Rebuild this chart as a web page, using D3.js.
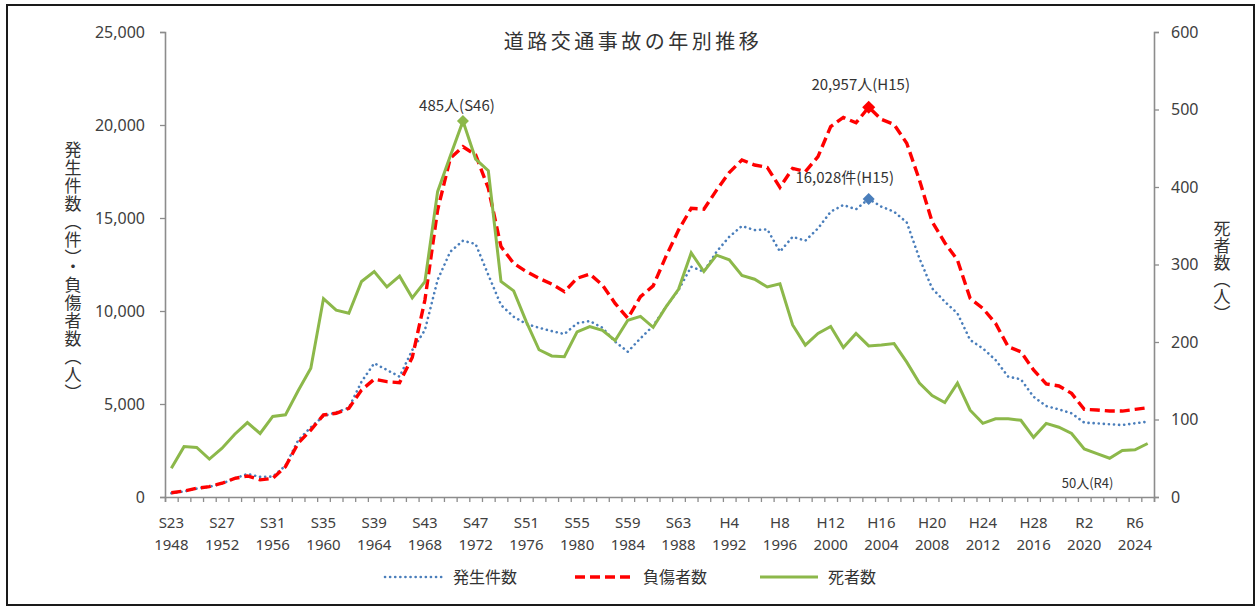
<!DOCTYPE html>
<html><head><meta charset="utf-8">
<script src="https://cdn.jsdelivr.net/npm/d3@7"></script>
<style>
html,body{margin:0;padding:0;background:#fff;}
text{font-family:"Noto Sans CJK JP","Noto Sans",sans-serif;fill:#404040;}
</style></head>
<body><svg id="c" width="1258" height="609"></svg>
<script>
const years = d3.range(1948, 2026);
const accidents = [200,300,450,550,720,1000,1240,1080,1100,1680,3050,3750,4350,4550,4800,6200,7190,6830,6470,7900,8980,11670,13190,13780,13600,11940,10320,9690,9300,9100,8920,8760,9340,9460,9100,8350,7810,8530,9200,10230,11130,12380,12120,13190,13990,14570,14350,14390,13190,13990,13780,14440,15340,15700,15470,16028,15610,15340,14760,12830,11220,10500,9870,8440,7990,7370,6470,6330,5390,4890,4710,4500,4000,3960,3910,3870,3960,4050];
const injured = [230,320,470,560,740,1000,1130,920,1000,1630,2890,3600,4410,4500,4770,5750,6330,6200,6150,7500,10590,15430,18210,18830,18390,16600,13460,12560,12120,11760,11450,11040,11760,11990,11400,10410,9610,10770,11350,12920,14350,15520,15470,16500,17440,18120,17850,17720,16650,17670,17490,18300,19910,20410,20120,20957,20300,20030,19020,17040,14800,13670,12740,10680,10140,9340,8080,7810,6830,6080,5970,5570,4710,4680,4620,4620,4710,4800];
const deaths = [37,65,64,49,63,81,96,82,104,106,137,166,256,241,237,278,291,271,285,257,278,394,440,485,436,421,278,266,226,190,182,181,213,220,215,202,228,233,219,245,268,315,291,312,306,286,281,271,275,222,196,211,220,193,211,195,196,198,174,147,131,122,147,112,95,101,101,99,77,95,90,82,62,56,50,60,61,69];
const tickYears = [1948,1952,1956,1960,1964,1968,1972,1976,1980,1984,1988,1992,1996,2000,2004,2008,2012,2016,2020,2024];
const tickEra = ["S23","S27","S31","S35","S39","S43","S47","S51","S55","S59","S63","H4","H8","H12","H16","H20","H24","H28","R2","R6"];
const leftTicks = [0,5000,10000,15000,20000,25000];
const rightTicks = [0,100,200,300,400,500,600];
const seriesNames = ["発生件数","負傷者数","死者数"];

const svg = d3.select("#c");
const L=165, R=1154, T=32, B=497;
const x = d3.scaleBand().domain(years).range([L,R]).padding(0);
const xc = d => x(d) + x.bandwidth()/2;
const yL = d3.scaleLinear().domain([0,25000]).range([B,T]);
const yR = d3.scaleLinear().domain([0,600]).range([B,T]);
const axisColor = "#8c8c8c";

// outer border
svg.append("rect").attr("x",7).attr("y",5).attr("width",1247).attr("height",600)
  .attr("fill","none").attr("stroke","#1a1a1a").attr("stroke-width",2);

// title
svg.append("text").attr("x",633).attr("y",49).attr("text-anchor","middle")
  .style("font-size","20px").style("letter-spacing","3.5px").style("fill","#333").text("道路交通事故の年別推移");

// left axis
const gL = svg.append("g").attr("transform",`translate(${L},0)`)
  .call(d3.axisLeft(yL).tickValues(leftTicks).tickSize(5).tickPadding(15).tickFormat(d3.format(",")));
// right axis
const gR = svg.append("g").attr("transform",`translate(${R},0)`)
  .call(d3.axisRight(yR).tickValues(rightTicks).tickSize(5).tickPadding(12));
// bottom boundary ticks
const xi = d3.scaleLinear().domain([0,years.length]).range([L,R]);
const gB = svg.append("g").attr("transform",`translate(0,${B})`)
  .call(d3.axisBottom(xi).tickValues(d3.range(0,years.length+1)).tickSize(5).tickFormat(""));
// bottom labels
const gB2 = svg.append("g").attr("transform",`translate(0,${B})`)
  .call(d3.axisBottom(x).tickValues(tickYears).tickSize(0).tickPadding(20).tickFormat((d,i)=>tickEra[i]));
gB2.select(".domain").remove();
gB2.selectAll(".tick text").each(function(d,i){
  const t=d3.select(this);
  t.append("tspan").attr("x",0).attr("dy","1.5em").text(d);
});
[gL,gR,gB,gB2].forEach(g=>{
  g.selectAll(".domain").attr("stroke",axisColor).attr("stroke-width",1.6);
  g.selectAll(".tick line").attr("stroke",axisColor).attr("stroke-width",1.3);
  g.selectAll(".tick text").style("font-size","15px").style("fill","#404040").style("font-family","'Noto Sans','Noto Sans CJK JP',sans-serif");
});
[gL,gR].forEach(g=>g.selectAll(".tick text").style("font-size","16px"));

// axis titles
svg.append("text").attr("transform","translate(73,135)")
  .style("writing-mode","vertical-rl").style("font-size","17px").style("letter-spacing","1px").style("fill","#333")
  .attr("dy","0.35em")
  .text("発生件数（件）・負傷者数（人）");
svg.append("text").attr("transform","translate(1222,214)")
  .style("writing-mode","vertical-rl").style("font-size","17px").style("fill","#333")
  .attr("dy","0.35em")
  .text("死者数（人）");

// lines
const lineL = arr => d3.line().x((d,i)=>xc(years[i])).y(d=>yL(d))(arr);
const lineR = arr => d3.line().x((d,i)=>xc(years[i])).y(d=>yR(d))(arr);
const blue="#4a7ebb", red="#ff0000", green="#8cb84a";
svg.append("path").attr("d",lineL(accidents)).attr("fill","none").attr("stroke",blue)
  .attr("stroke-width",2.6).attr("stroke-dasharray","0.1 5").attr("stroke-linecap","round");
svg.append("path").attr("d",lineL(injured)).attr("fill","none").attr("stroke",red)
  .attr("stroke-width",3.4).attr("stroke-dasharray","10 5").attr("stroke-linecap","butt");
svg.append("path").attr("d",lineR(deaths)).attr("fill","none").attr("stroke",green)
  .attr("stroke-width",3).attr("stroke-linejoin","miter");

// markers (square rotated 45deg)
const iPeakD = deaths.indexOf(d3.max(deaths));
const iPeakI = injured.indexOf(d3.max(injured));
const iPeakA = accidents.indexOf(d3.max(accidents));
const diamond = d3.symbol().type(d3.symbolSquare).size(72);
svg.append("path").attr("d",diamond()).attr("fill",green)
  .attr("transform",`translate(${xc(years[iPeakD])},${yR(deaths[iPeakD])}) rotate(45)`);
svg.append("path").attr("d",diamond.size(85)()).attr("fill",red)
  .attr("transform",`translate(${xc(years[iPeakI])},${yL(injured[iPeakI])}) rotate(45)`);
svg.append("path").attr("d",diamond.size(72)()).attr("fill",blue)
  .attr("transform",`translate(${xc(years[iPeakA])},${yL(accidents[iPeakA])}) rotate(45)`);

// annotations
const ann = (tx,ty,s,anchor)=>svg.append("text").attr("x",tx).attr("y",ty)
  .attr("text-anchor",anchor||"middle").style("font-size","15px").style("fill","#333").text(s);
ann(xc(years[iPeakD])-6, yR(deaths[iPeakD])-10, `${deaths[iPeakD]}人(S46)`);
ann(xc(years[iPeakI])-8, yL(injured[iPeakI])-17, `${d3.format(",")(injured[iPeakI])}人(H15)`);
ann(xc(years[iPeakA])-24, yL(accidents[iPeakA])-16, `${d3.format(",")(accidents[iPeakA])}件(H15)`);
const iR4 = years.indexOf(2022);
ann(xc(2022)-22, yR(deaths[iR4])+30, `${deaths[iR4]}人(R4)`).style("font-size","13px");

// legend
const lg = svg.append("g").attr("transform","translate(0,577)");
const items = [
  {x:385, c:blue, w:2.6, da:"0.1 5", cap:"round", name:seriesNames[0]},
  {x:575, c:red, w:3.4, da:"10 5", cap:"butt", name:seriesNames[1]},
  {x:760, c:green, w:3, da:null, cap:"butt", name:seriesNames[2]}
];
items.forEach(it=>{
  lg.append("line").attr("x1",it.x).attr("x2",it.x+58).attr("y1",0).attr("y2",0)
    .attr("stroke",it.c).attr("stroke-width",it.w).attr("stroke-dasharray",it.da).attr("stroke-linecap",it.cap);
  lg.append("text").attr("x",it.x+68).attr("y",0).attr("dy","0.35em").style("font-size","16px").style("fill","#333").text(it.name);
});
</script></body></html>
